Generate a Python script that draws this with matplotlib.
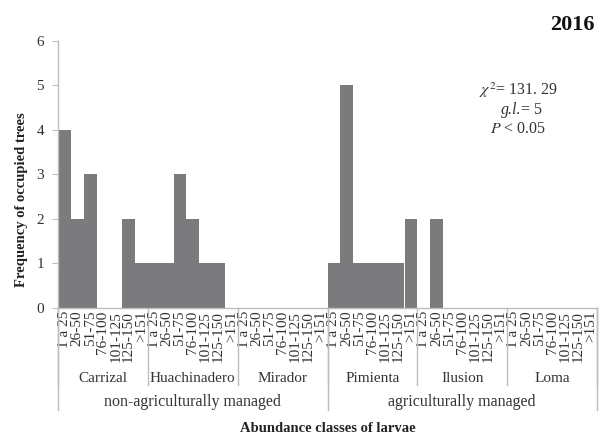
import matplotlib
matplotlib.use("Agg")
import matplotlib.pyplot as plt

plt.rcParams['font.family'] = ['Liberation Serif', 'DejaVu Serif']
plt.rcParams['mathtext.fontset'] = 'stix'

sites = ["Carrizal", "Huachinadero", "Mirador", "Pimienta", "Ilusion", "Loma"]
classes = ["1 a 25", "26-50", "51-75", "76-100", "101-125", "125-150", ">151"]
management = ["non-agriculturally managed", "agriculturally managed"]
sites_per_management = [3, 3]

carrizal = [4, 2, 3, 0, 0, 2, 1]
huachinadero = [1, 1, 3, 2, 1, 1, 0]
mirador = [0, 0, 0, 0, 0, 0, 0]
pimienta = [1, 5, 1, 1, 1, 1, 2]
ilusion = [0, 2, 0, 0, 0, 0, 0]
loma = [0, 0, 0, 0, 0, 0, 0]

series = [carrizal, huachinadero, mirador, pimienta, ilusion, loma]
values = [v for s in series for v in s]
labels = [c for _ in sites for c in classes]
n = len(values)
nc = len(classes)

W, H = 602, 434
fig = plt.figure(figsize=(W / 100, H / 100), dpi=100)
x0, x1 = 58, 597
ytop, ybot = 40.7, 308
ax = fig.add_axes([x0 / W, (H - ybot) / H, (x1 - x0) / W, (ybot - ytop) / H])

line_col = '#bdbdbd'
txt_col = '#333333'

ax.bar(range(n), values, width=1.0, color='#7b7b7d', linewidth=0)
ax.set_xlim(-0.5, n - 0.5)
ax.set_ylim(0, 6)
ax.set_yticks(range(7))
ax.tick_params(axis='y', length=4, color=line_col, labelsize=11, labelcolor=txt_col, pad=6)
ax.set_xticks(range(n))
ax.set_xticklabels(labels, rotation=90, fontsize=11, color=txt_col, va='top', ha='center')
ax.tick_params(axis='x', length=0, pad=2)
for s in ['top', 'right']:
    ax.spines[s].set_visible(False)
for s in ['left', 'bottom']:
    ax.spines[s].set_color(line_col)
    ax.spines[s].set_linewidth(1.0)

def frac(py):
    return (ybot - py) / (ybot - ytop)

tr = ax.get_xaxis_transform()
# site separators
for i in range(len(sites) + 1):
    xs = i * nc - 0.5
    ax.plot([xs, xs], [0, frac(385)], transform=tr, color=line_col, lw=1.0, clip_on=False)
# management separators
b = 0
bounds = [0]
for k in sites_per_management:
    b += k
    bounds.append(b)
for bi in bounds:
    xs = bi * nc - 0.5
    ax.plot([xs, xs], [0, frac(410)], transform=tr, color=line_col, lw=1.0, clip_on=False)

for i, s in enumerate(sites):
    ax.text(i * nc + (nc - 1) / 2, frac(378), s, transform=tr, ha='center', va='center',
            fontsize=11, color=txt_col)
for j, m in enumerate(management):
    c = (bounds[j] + bounds[j + 1]) * nc / 2 - 0.5
    ax.text(c, frac(402), m, transform=tr, ha='center', va='center', fontsize=11.5, color=txt_col)

fig.text(((x0 + x1) / 2) / W, 1 - 428 / H, "Abundance classes of larvae", ha='center', va='center',
         fontsize=10.5, fontweight='bold', color='#222222')
fig.text(22 / W, 1 - 200 / H, "Frequency of occupied trees", rotation=90, ha='center', va='center',
         fontsize=10.5, fontweight='bold', color='#222222')

fig.text(595 / W, 1 - 25 / H, "2016", ha='right', va='center', fontsize=16, fontweight='bold', color='#111111')
fig.text(518 / W, 1 - 90 / H, r"$\chi^2$= 131. 29", ha='center', va='center', fontsize=11.5, color=txt_col)
fig.text(521 / W, 1 - 110 / H, "g.l.", ha='right', va='center', fontsize=11.5, fontstyle='italic', color=txt_col)
fig.text(521 / W, 1 - 110 / H, "= 5", ha='left', va='center', fontsize=11.5, color=txt_col)
fig.text(518 / W, 1 - 129 / H, r"$P$ < 0.05", ha='center', va='center', fontsize=11.5, color=txt_col)

fig.savefig("out.png", dpi=100)
